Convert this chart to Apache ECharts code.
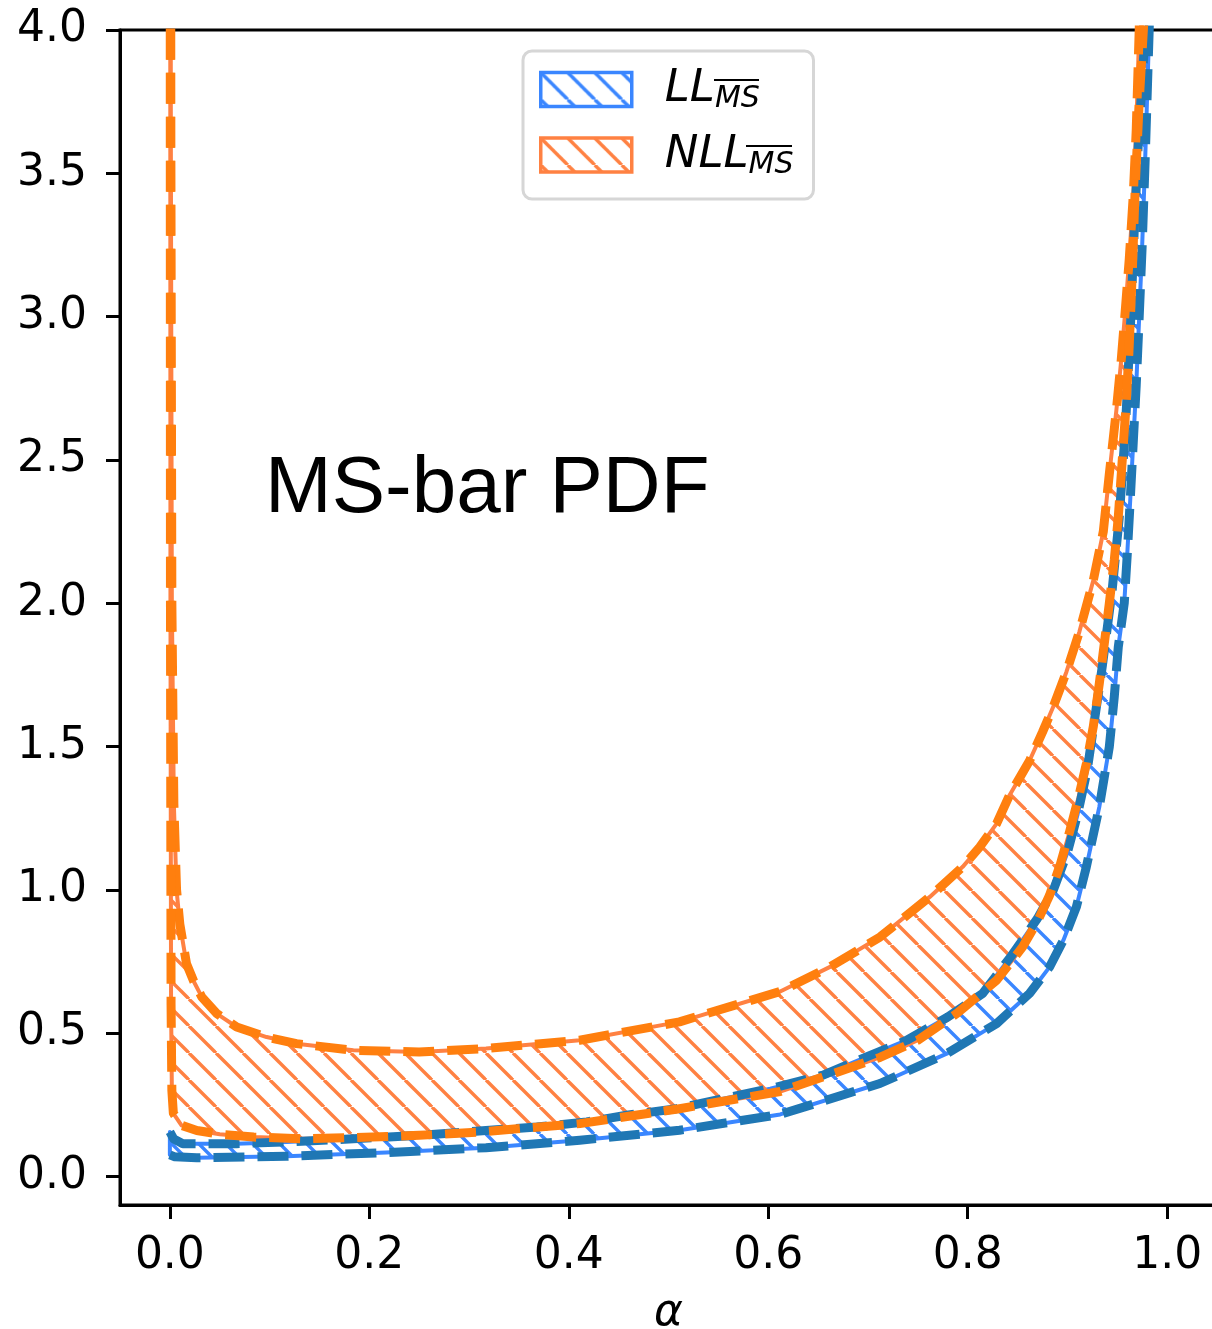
<!DOCTYPE html>
<html>
<head>
<meta charset="utf-8">
<script src="https://cdn.jsdelivr.net/npm/echarts@6/dist/echarts.min.js"></script>
<style>
html,body{margin:0;padding:0;background:#fff;}
#chart{width:1212px;height:1329px;}
</style>
</head>
<body>
<div id="chart"></div>
<script>
// ---- data ----
const xTicks = [0.0, 0.2, 0.4, 0.6, 0.8, 1.0];
const xTickLabels = ['0.0', '0.2', '0.4', '0.6', '0.8', '1.0'];
const yTicks = [0.0, 0.5, 1.0, 1.5, 2.0, 2.5, 3.0, 3.5, 4.0];
const yTickLabels = ['0.0', '0.5', '1.0', '1.5', '2.0', '2.5', '3.0', '3.5', '4.0'];

const seriesNames = ['LL', 'NLL'];
const subscriptText = 'MS';
const annotationText = 'MS-bar PDF';
const xAxisName = 'α';

// LL (blue) band
const llUpperAlpha = [0.0, 0.004, 0.013, 0.067, 0.117, 0.184, 0.25, 0.317, 0.368, 0.418, 0.458, 0.508, 0.555, 0.602, 0.655, 0.698, 0.739, 0.78, 0.815, 0.844, 0.87, 0.886, 0.9, 0.91, 0.92, 0.935, 0.945, 0.952, 0.958, 0.963, 0.967, 0.971, 0.979, 0.985];
const llUpper      = [0.155, 0.13, 0.114, 0.114, 0.12, 0.131, 0.143, 0.16, 0.172, 0.19, 0.213, 0.236, 0.271, 0.306, 0.353, 0.416, 0.475, 0.556, 0.638, 0.77, 0.9, 1.0, 1.13, 1.26, 1.42, 1.78, 2.05, 2.3, 2.6, 2.95, 3.3, 3.6, 4.05, 4.8];
const llLowerAlpha = [0.0, 0.005, 0.027, 0.117, 0.217, 0.317, 0.411, 0.511, 0.612, 0.712, 0.779, 0.829, 0.862, 0.882, 0.896, 0.909, 0.919, 0.932, 0.942, 0.947, 0.951, 0.957, 0.960, 0.963, 0.966, 0.969, 0.972, 0.975, 0.978, 0.982, 0.988];
const llLower      = [0.075, 0.068, 0.065, 0.07, 0.083, 0.1, 0.126, 0.161, 0.216, 0.324, 0.428, 0.533, 0.638, 0.73, 0.824, 0.94, 1.08, 1.289, 1.498, 1.673, 1.847, 2.0, 2.17, 2.36, 2.56, 2.76, 3.0, 3.25, 3.55, 4.0, 4.8];

// NLL (orange) band
const nllUpperAlpha = [0.0004, 0.001, 0.002, 0.004, 0.0067, 0.01, 0.0167, 0.024, 0.032, 0.047, 0.067, 0.097, 0.127, 0.184, 0.25, 0.317, 0.411, 0.511, 0.612, 0.662, 0.712, 0.762, 0.795, 0.812, 0.829, 0.842, 0.862, 0.875, 0.886, 0.899, 0.912, 0.926, 0.936, 0.942, 0.949, 0.954, 0.958, 0.962, 0.966, 0.969, 0.972, 0.977];
const nllUpper      = [6.0, 3.6, 2.0, 1.3, 1.0, 0.88, 0.742, 0.68, 0.626, 0.568, 0.521, 0.486, 0.463, 0.44, 0.434, 0.446, 0.475, 0.539, 0.645, 0.731, 0.835, 0.975, 1.08, 1.149, 1.231, 1.33, 1.45, 1.55, 1.64, 1.76, 1.90, 2.08, 2.25, 2.45, 2.67, 2.85, 3.02, 3.2, 3.42, 3.65, 4.0, 4.8];
const nllLowerAlpha = [0.0002, 0.0006, 0.0012, 0.002, 0.0035, 0.0117, 0.027, 0.05, 0.084, 0.134, 0.184, 0.25, 0.311, 0.411, 0.511, 0.612, 0.662, 0.712, 0.75, 0.789, 0.829, 0.855, 0.870, 0.882, 0.893, 0.902, 0.911, 0.919, 0.926, 0.932, 0.942, 0.947, 0.951, 0.955, 0.959, 0.962, 0.965, 0.968, 0.972, 0.977, 0.983];
const nllLower      = [6.0, 2.0, 0.6, 0.3, 0.22, 0.178, 0.16, 0.147, 0.137, 0.131, 0.135, 0.143, 0.155, 0.184, 0.236, 0.296, 0.355, 0.415, 0.475, 0.568, 0.684, 0.8, 0.89, 0.98, 1.09, 1.2, 1.32, 1.44, 1.57, 1.72, 1.999, 2.15, 2.30, 2.50, 2.70, 2.90, 3.15, 3.45, 3.75, 4.05, 4.8];

// ---- styles ----
const LINE_BLUE = '#1f77b4', LINE_ORANGE = '#ff7f0e';
const HATCH_BLUE = '#3a86ff', HATCH_ORANGE = '#ff8142';

function hatchCanvas(color) {
  const s = 27;
  const c = document.createElement('canvas');
  c.width = s; c.height = s;
  const g = c.getContext('2d');
  g.strokeStyle = color; g.lineWidth = 3.4;
  [-s, 0, s].forEach(k => { g.beginPath(); g.moveTo(k, 0); g.lineTo(k + s, s); g.stroke(); });
  return { image: c, repeat: 'repeat' };
}
const patBlue = hatchCanvas(HATCH_BLUE);
const patOrange = hatchCanvas(HATCH_ORANGE);

function pairs(a, v) { return a.map((x, i) => [x, v[i]]); }

function bandRenderer(upA, up, loA, lo, pattern, edge) {
  return function (params, api) {
    if (params.dataIndex !== 0) return;
    const pts = [];
    for (let i = 0; i < upA.length; i++) pts.push(api.coord([upA[i], up[i]]));
    for (let i = loA.length - 1; i >= 0; i--) pts.push(api.coord([loA[i], lo[i]]));
    const cs = params.coordSys;
    return {
      type: 'polygon',
      shape: { points: pts },
      style: { fill: pattern, stroke: edge, lineWidth: 4, lineJoin: 'round' },
      clipPath: { type: 'rect', shape: { x: cs.x, y: cs.y, width: cs.width, height: cs.height } }
    };
  };
}

function dashed(name, a, v, color) {
  return {
    name: name, type: 'line', data: pairs(a, v), showSymbol: false, symbol: 'none',
    clip: true, silent: true, z: 3,
    lineStyle: { color: color, width: 9, type: [31, 13], cap: 'butt', join: 'round' }
  };
}

function labelFor(ticks, labels) {
  return function (v) {
    for (let i = 0; i < ticks.length; i++) if (Math.abs(ticks[i] - v) < 1e-9) return labels[i];
    return '';
  };
}

const tickFont = { fontFamily: 'DejaVu Sans', fontSize: 44, color: '#000' };

const chart = echarts.init(document.getElementById('chart'), null, { renderer: 'canvas' });
chart.setOption({
  animation: false,
  backgroundColor: '#fff',
  grid: {
    left: 120, top: 30, right: -5, bottom: 124,
    show: true, borderColor: '#000', borderWidth: 3, backgroundColor: 'transparent',
    outerBoundsMode: 'none', containLabel: false
  },
  xAxis: {
    type: 'value', min: -0.05, max: 1.05,
    name: xAxisName, nameLocation: 'middle', nameGap: 87,
    nameTextStyle: { fontFamily: 'DejaVu Sans', fontStyle: 'italic', fontSize: 44, color: '#000' },
    splitLine: { show: false },
    axisLine: { show: true, onZero: false, lineStyle: { color: '#000', width: 3 } },
    axisTick: { show: true, length: 14, customValues: xTicks, lineStyle: { color: '#000', width: 3 } },
    axisLabel: Object.assign({ margin: 30, customValues: xTicks, formatter: labelFor(xTicks, xTickLabels) }, tickFont)
  },
  yAxis: {
    type: 'value', min: -0.1, max: 4.0,
    splitLine: { show: false },
    axisLine: { show: true, onZero: false, lineStyle: { color: '#000', width: 3 } },
    axisTick: { show: true, length: 14, customValues: yTicks, lineStyle: { color: '#000', width: 3 } },
    axisLabel: Object.assign({ margin: 33, customValues: yTicks, formatter: labelFor(yTicks, yTickLabels) }, tickFont)
  },
  legend: {
    orient: 'vertical', left: 523, top: 51,
    padding: [16, 20, 19, 16],
    itemWidth: 91, itemHeight: 34, itemGap: 18,
    backgroundColor: '#fff', borderColor: '#d6d6d6', borderWidth: 3, borderRadius: 9,
    selectedMode: false,
    data: [
      { name: seriesNames[0], icon: 'rect', itemStyle: { color: patBlue, borderColor: HATCH_BLUE, borderWidth: 3.5 } },
      { name: seriesNames[1], icon: 'rect', itemStyle: { color: patOrange, borderColor: HATCH_ORANGE, borderWidth: 3.5 } }
    ],
    formatter: function (name) { return '{it|' + name + '}{sub|' + subscriptText + '}'; },
    textStyle: {
      rich: {
        it: { fontFamily: 'DejaVu Sans', fontStyle: 'italic', fontSize: 45, color: '#000', padding: [0, 0, 0, 28], lineHeight: 50 },
        sub: { fontFamily: 'DejaVu Sans', fontStyle: 'italic', fontSize: 30, color: '#000', lineHeight: 36, verticalAlign: 'bottom' }
      }
    }
  },
  graphic: [
    { type: 'text', left: 265, top: 450, silent: true,
      style: { text: annotationText, font: '80px "Liberation Sans", Arial, sans-serif', fill: '#000' } },
    // overlines of the legend subscripts
    { type: 'line', silent: true, z: 100, shape: { x1: 714, y1: 80, x2: 759, y2: 80 }, style: { stroke: '#000', lineWidth: 2 } },
    { type: 'line', silent: true, z: 100, shape: { x1: 746, y1: 146, x2: 792, y2: 146 }, style: { stroke: '#000', lineWidth: 2 } }
  ],
  series: [
    { name: seriesNames[0], type: 'custom', data: [[0, 0]], clip: true, z: 2, silent: true,
      renderItem: bandRenderer(llUpperAlpha, llUpper, llLowerAlpha, llLower, patBlue, HATCH_BLUE),
      itemStyle: { color: HATCH_BLUE } },
    dashed('LL upper', llUpperAlpha, llUpper, LINE_BLUE),
    dashed('LL lower', llLowerAlpha, llLower, LINE_BLUE),
    { name: seriesNames[1], type: 'custom', data: [[0, 0]], clip: true, z: 2, silent: true,
      renderItem: bandRenderer(nllUpperAlpha, nllUpper, nllLowerAlpha, nllLower, patOrange, HATCH_ORANGE),
      itemStyle: { color: HATCH_ORANGE } },
    dashed('NLL upper', nllUpperAlpha, nllUpper, LINE_ORANGE),
    dashed('NLL lower', nllLowerAlpha, nllLower, LINE_ORANGE)
  ]
});
</script>
</body>
</html>
